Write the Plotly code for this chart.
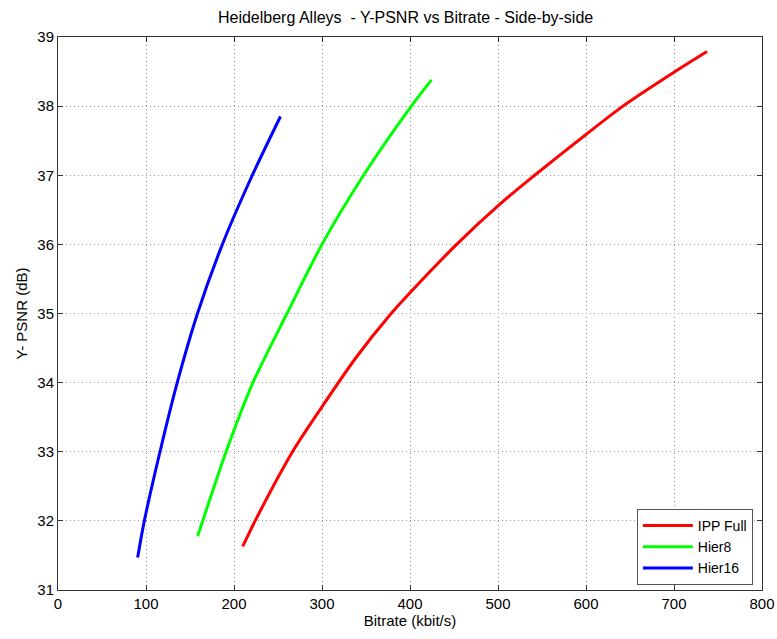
import plotly.graph_objects as go

ipp_x = [209.9, 224, 266.5, 300, 338.5, 378.6, 400, 453, 503.8, 541.7, 600, 642, 700, 737.5]
ipp_y = [31.63, 32.0, 33.0, 33.65, 34.36, 35.0, 35.3, 36.0, 36.6, 37.0, 37.59, 38.0, 38.49, 38.79]

h8_x = [158.7, 164.4, 191, 221.5, 260.2, 300, 347.2, 401.5, 424.5]
h8_y = [31.78, 32.0, 33.0, 34.0, 35.0, 36.0, 37.0, 38.0, 38.38]

h16_x = [90.5, 98.1, 115.9, 135.5, 158.5, 186.8, 220.8, 252.8]
h16_y = [31.47, 32.0, 33.0, 34.0, 35.0, 36.0, 37.0, 37.85]

x_ticks = [0, 100, 200, 300, 400, 500, 600, 700, 800]
y_ticks = [31, 32, 33, 34, 35, 36, 37, 38, 39]

fig = go.Figure()
fig.add_trace(go.Scatter(x=ipp_x, y=ipp_y, mode="lines", name="IPP Full",
                         line=dict(color="#ff0000", width=3, shape="spline", smoothing=0.8)))
fig.add_trace(go.Scatter(x=h8_x, y=h8_y, mode="lines", name="Hier8",
                         line=dict(color="#00ff00", width=3, shape="spline", smoothing=0.8)))
fig.add_trace(go.Scatter(x=h16_x, y=h16_y, mode="lines", name="Hier16",
                         line=dict(color="#0000ff", width=3, shape="spline", smoothing=0.8)))

font = "Liberation Sans, Arial, sans-serif"
axis_common = dict(showline=True, linecolor="#333333", linewidth=1, mirror="ticks",
                   ticks="inside", ticklen=5, tickcolor="#333333",
                   showgrid=True, gridcolor="#999999", griddash="1px,3px", gridwidth=1,
                   zeroline=False, automargin=False,
                   tickfont=dict(family=font, size=15, color="#000000"))

fig.update_layout(
    width=777, height=639,
    paper_bgcolor="white", plot_bgcolor="white",
    margin=dict(l=58, r=15, t=37, b=49),
    title=dict(text="Heidelberg Alleys  - Y-PSNR vs Bitrate - Side-by-side",
               x=0.522, xanchor="center", y=0.972, yanchor="middle",
               font=dict(family=font, size=16, color="#000000")),
    xaxis=dict(range=[0, 800], tickvals=x_ticks,
               title=dict(text="Bitrate (kbit/s)", font=dict(family=font, size=15, color="#000000"), standoff=2),
               **axis_common),
    yaxis=dict(range=[31, 39], tickvals=y_ticks,
               title=dict(text="Y- PSNR (dB)", font=dict(family=font, size=15, color="#000000"), standoff=6),
               **axis_common),
    legend=dict(x=0.987, y=0.009, xanchor="right", yanchor="bottom",
                bgcolor="white", bordercolor="#555555", borderwidth=1,
                font=dict(family=font, size=14, color="#000000"),
                itemwidth=50, tracegroupgap=0),
    showlegend=True,
)

fig.write_html("out.html")
